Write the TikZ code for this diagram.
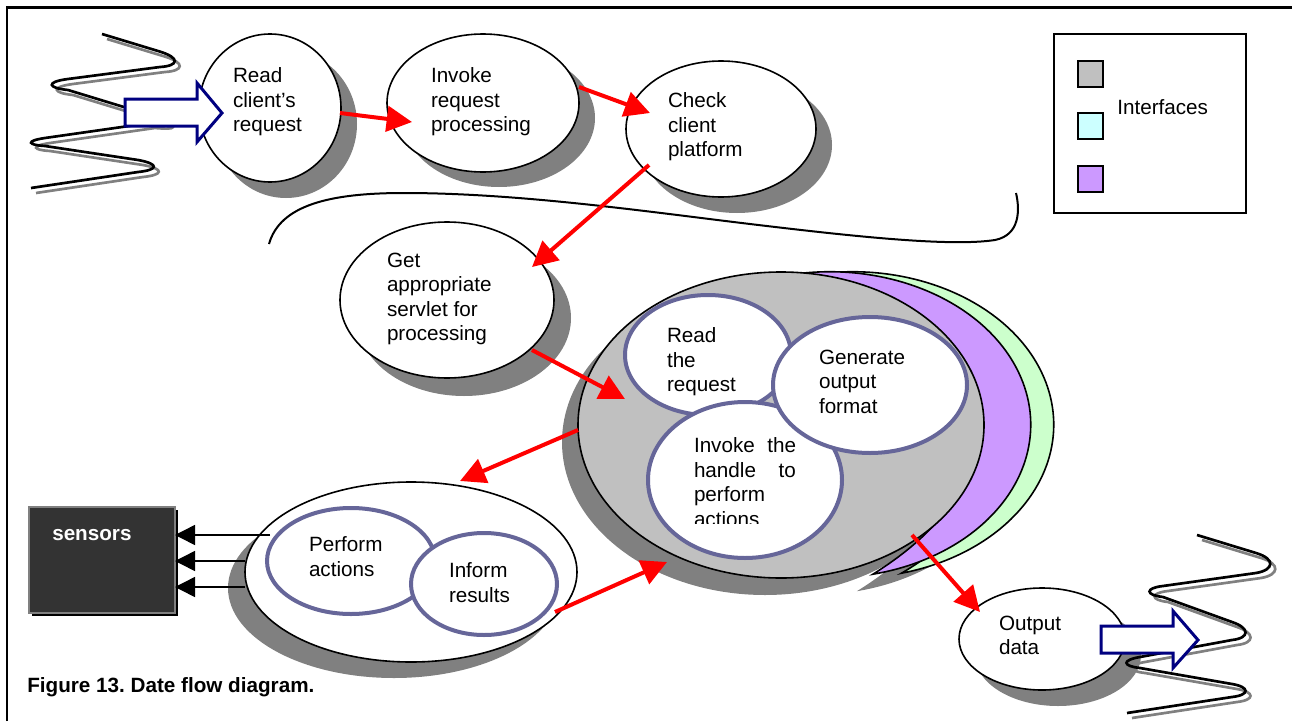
\documentclass[tikz,border=0pt]{standalone}
\usepackage{fontspec}
\setmainfont{Liberation Sans}
\usetikzlibrary{shapes.geometric,arrows.meta}
\frenchspacing

\definecolor{shadowgray}{HTML}{808080}
\definecolor{coregray}{HTML}{C0C0C0}
\definecolor{moonpurple}{HTML}{CC99FF}
\definecolor{moongreen}{HTML}{CCFFCC}
\definecolor{legendcyan}{HTML}{CCFFFF}
\definecolor{ringblue}{HTML}{666699}
\definecolor{arrownavy}{HTML}{000080}
\definecolor{sensorfill}{HTML}{333333}

% crescent-shaped interface layers behind the servlet core
\newcommand\moonpurplepath{(761,281) arc[start angle=-110, end angle=77.6, x radius=201, y radius=153]
  .. controls (915,548) and (975,500) .. (975,430)
  .. controls (975,340) and (860,285) .. (761,281) -- cycle}
\newcommand\moongreenpath{(784,281) arc[start angle=-110, end angle=76, x radius=201, y radius=153]
  .. controls (945,548) and (1000,500) .. (1000,430)
  .. controls (1000,340) and (880,285) .. (784,281) -- cycle}

% data streams entering and leaving the server
\newcommand\instream{(102,34) -- (158,51) .. controls (182,58) and (178,66) .. (160,67)
  -- (68,79) .. controls (45,82) and (48,88) .. (68,90)
  -- (150,115) .. controls (175,122) and (172,125) .. (150,123)
  -- (45,138) .. controls (25,141) and (28,145) .. (45,146)
  -- (138,160) .. controls (160,164) and (158,170) .. (138,172) -- (31,188)}
\newcommand\outstream{(1197,535) -- (1256,553) .. controls (1276,559) and (1274,570) .. (1256,573)
  -- (1163,586) .. controls (1145,588) and (1145,595) .. (1163,597)
  -- (1232,622) .. controls (1250,628) and (1250,638) .. (1232,640)
  -- (1140,657) .. controls (1122,660) and (1122,666) .. (1140,668)
  -- (1232,684) .. controls (1250,687) and (1250,695) .. (1232,697) -- (1127,713)}

\begin{document}
\begin{tikzpicture}[x=0.75pt, y=-0.75pt,
  font=\fontsize{15.5}{18.3}\selectfont,
  sz/.style 2 args={minimum width=#1*1.5pt, minimum height=#2*1.5pt},
  blob/.style={ellipse, draw=black, fill=white, line width=1.2pt, inner sep=0pt, outer sep=0pt},
  ring/.style={ellipse, draw=ringblue, fill=white, line width=3pt, inner sep=0pt, outer sep=0pt},
  lbl/.style={anchor=north west, inner sep=0pt, outer sep=0pt, align=left},
  flow/.style={draw=red, line width=3pt, -{Triangle[length=19pt,width=19pt]}},
  hit/.style={draw=black, line width=1.1pt, -{Triangle[length=15pt,width=15pt]}},
  wave/.style={line width=2pt},
  blockarrow/.style={draw=arrownavy, fill=white, line width=2.25pt, line join=miter},
  swatch/.style={draw=black, line width=1.3pt},
  frameline/.style={line width=1.6pt}
]
\useasboundingbox (0,0) rectangle (1292,721);

% page frame
\draw[frameline] (7,721) -- (7,7.5) -- (1292,7.5);

% legend
\draw[line width=1.2pt] (1054,34) rectangle (1246,213);
\draw[swatch, fill=coregray] (1078,61) rectangle (1103,87);
\draw[swatch, fill=legendcyan] (1078,113) rectangle (1103,139);
\draw[swatch, fill=moonpurple] (1078,166) rectangle (1103,192);
\node[anchor=base west, inner sep=0pt] (legendtxt) at (1117,114) {Interfaces};

% incoming data stream
\foreach \col/\d in {shadowgray/5, black/0}
  \draw[wave, draw=\col, shift={(\d,\d)}] \instream;

% top row of steps
\coordinate (cRead) at (270,108);
\coordinate (cInvoke) at (483,103);
\coordinate (cCheck) at (721,129);
\fill[shadowgray] ([shift={(16,16)}]cRead) ellipse [x radius=71, y radius=74];
\node[blob, sz={71}{74}] (read) at (cRead) {};
\node[lbl] (readtxt) at (233,68) {Read\\client’s\\request};

\draw[blockarrow] (125,99) -- (197,99) -- (197,83) -- (222,113) -- (197,142) -- (197,126) -- (125,126) -- cycle;

\fill[shadowgray] ([shift={(16,15)}]cInvoke) ellipse [x radius=96, y radius=69];
\node[blob, sz={96}{69}] (invoke) at (cInvoke) {};
\node[lbl] (invoketxt) at (431,68) {Invoke\\request\\processing};

\fill[shadowgray] ([shift={(16,16)}]cCheck) ellipse [x radius=95, y radius=68];
\node[blob, sz={95}{68}] (check) at (cCheck) {};
\node[lbl] (checktxt) at (668,93) {Check\\client\\platform};

% wavy separator
\draw[line width=1.5pt] (269,244) .. controls (280,205) and (330,193) .. (404,193)
  .. controls (520,193) and (650,212) .. (750,224)
  .. controls (850,236) and (950,247) .. (995,240)
  .. controls (1020,235) and (1020,210) .. (1016,193);

% servlet lookup
\coordinate (cGet) at (447,300);
\fill[shadowgray] ([shift={(17,18)}]cGet) ellipse [x radius=107, y radius=78];
\node[blob, sz={107}{78}] (get) at (cGet) {};
\node[lbl] (gettxt) at (387,253) {Get\\appropriate\\servlet for\\processing};

% servlet core with its interface layers
\begin{scope}[shift={(-16,17)}]
  \fill[shadowgray] (781,425) ellipse [x radius=203, y radius=153];
  \fill[shadowgray] \moonpurplepath;
\end{scope}
\draw[fill=moongreen, line width=1.2pt] \moongreenpath;
\draw[fill=moonpurple, line width=1.2pt] \moonpurplepath;
\node[blob, fill=coregray, sz={203}{153}] (core) at (781,425) {};

\node[ring, sz={83}{60}] (readreq) at (708,355) {};
\node[lbl] (readreqtxt) at (667,328) {Read\\the\\request};
\node[ring, sz={97}{78}] (handle) at (745,480) {};
\begin{scope}
  \clip (640,400) rectangle (850,523.5);
  \node[lbl] (handletxt) at (694,438) {\makebox[76.5pt][s]{Invoke the}\\\makebox[76.5pt][s]{handle to}\\perform\\actions};
\end{scope}
\node[ring, sz={97}{68}] (genout) at (870,385) {};
\node[lbl] (genouttxt) at (819,350) {Generate\\output\\format};

% action handling
\fill[shadowgray] (394,588) ellipse [x radius=166, y radius=90];
\node[blob, sz={166}{90}] (actgrp) at (411,572) {};
\node[ring, sz={84}{53}] (perform) at (351,561) {};
\node[lbl] (performtxt) at (309,537) {Perform\\actions};
\node[ring, sz={73}{51}] (inform) at (484,584) {};
\node[lbl] (informtxt) at (449,563) {Inform\\results};

% sensors
\fill[black] (32,510) rectangle (178,616);
\node[draw=shadowgray, fill=sensorfill, line width=0.8pt, inner sep=0pt, outer sep=0pt,
      minimum width=109.5pt, minimum height=79.5pt] (sensors) at (102,560) {};
\node[anchor=base west, inner sep=0pt, text=white, font=\fontsize{15.5}{18.3}\selectfont\bfseries] (sensorstxt) at (52,540) {sensors};
\draw[hit] ([shift={(-141,-37)}]actgrp.center) -- ([shift={(0,-25)}]sensors.east);
\draw[hit] ([shift={(-166,-11)}]actgrp.center) -- ([shift={(0,1)}]sensors.east);
\draw[hit] ([shift={(-166,15)}]actgrp.center) -- ([shift={(0,27)}]sensors.east);

% output
\coordinate (cOut) at (1042,639);
\fill[shadowgray] ([shift={(16,16)}]cOut) ellipse [x radius=83, y radius=51];
\node[blob, sz={83}{51}] (output) at (cOut) {};
\node[lbl] (outputtxt) at (999,616) {Output\\data};

\foreach \col/\d in {shadowgray/5, black/0}
  \draw[wave, draw=\col, shift={(\d,\d)}] \outstream;
\draw[blockarrow] (1101,626) -- (1173,626) -- (1173,611) -- (1198,640) -- (1173,668) -- (1173,653) -- (1101,653) -- cycle;

% request flow
\draw[flow] ([shift={(70,5)}]read.center) -- ([shift={(-71,19)}]invoke.center);
\draw[flow] ([shift={(96,-16)}]invoke.center) -- ([shift={(-71,-16)}]check.center);
\draw[flow] ([shift={(-72,36)}]check.center) -- ([shift={(85,-33)}]get.center);
\draw[flow] ([shift={(85,50)}]get.center) -- ([shift={(-156,-26)}]core.center);
\draw[flow] ([shift={(-203,5)}]core.center) -- ([shift={(49,-91)}]actgrp.center);
\draw[flow] ([shift={(71,28)}]inform.center) -- ([shift={(-114,137)}]core.center);
\draw[flow] ([shift={(131,110)}]core.center) -- ([shift={(-62,-27)}]output.center);

% caption
\node[anchor=base west, inner sep=0pt, font=\fontsize{15.5}{18.3}\selectfont\bfseries] (caption) at (27,692) {Figure 13. Date flow diagram.};
\end{tikzpicture}
\end{document}
